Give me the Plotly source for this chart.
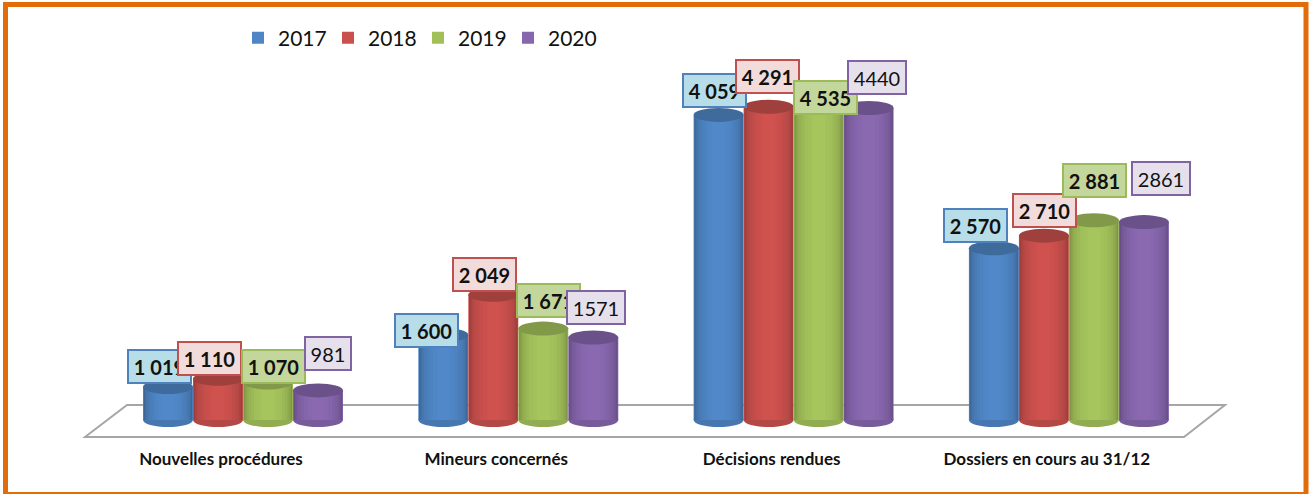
import plotly.graph_objects as go

categories = ["Nouvelles procédures", "Mineurs concernés", "Décisions rendues", "Dossiers en cours au 31/12"]
years = ["2017", "2018", "2019", "2020"]

# Printed data labels
labels_2017 = ["1 019", "1 600", "4 059", "2 570"]
labels_2018 = ["1 110", "2 049", "4 291", "2 710"]
labels_2019 = ["1 070", "1 671", "4 535", "2 881"]
labels_2020 = ["981", "1571", "4440", "2861"]

# Bar heights
values_2017 = [1019, 1600, 4059, 2570]
values_2018 = [1110, 2049, 4150, 2710]
values_2019 = [1070, 1671, 4190, 2881]
values_2020 = [981, 1571, 4136, 2861]
AXIS_BASE = 650

series_values = [values_2017, values_2018, values_2019, values_2020]
series_labels = [labels_2017, labels_2018, labels_2019, labels_2020]

colors = ["#4F85C4", "#C9504D", "#A2C05A", "#8666AC"]
box_fill = ["#B7DEE8", "#F2DCDB", "#C3D69B", "#E6E0EC"]
box_line = ["#4F81BD", "#C0504D", "#9BBB59", "#8064A2"]

W, H = 1310, 494
PLOT_BOTTOM = 440
GROUP_STEP = 275.3
GROUP0 = 243.0
BAR_W = 50.0 / GROUP_STEP
SCALE = 0.0895  # px per unit
y_min = AXIS_BASE - 20 / SCALE
y_max = AXIS_BASE + 420 / SCALE
x_min = -GROUP0 / GROUP_STEP
x_max = (W - GROUP0) / GROUP_STEP


def shade(hex_color, f):
    r, g, b = int(hex_color[1:3], 16), int(hex_color[3:5], 16), int(hex_color[5:7], 16)
    return "#%02X%02X%02X" % (int(min(255, r * f)), int(min(255, g * f)), int(min(255, b * f)))


def px(x):
    return x / W


def py(y):
    return 1 - y / PLOT_BOTTOM


fig = go.Figure()
nest = [(1.00, 0.72), (0.97, 0.78), (0.92, 0.84), (0.86, 0.89), (0.78, 0.93),
        (0.68, 0.96), (0.56, 0.99), (0.42, 1.01), (0.26, 1.03)]
xs = list(range(len(categories)))
for s, (year, vals) in enumerate(zip(years, series_values)):
    centre = (s - 1.5) * BAR_W
    for n, (frac, f) in enumerate(nest):
        w = BAR_W * frac
        fig.add_trace(go.Bar(
            x=xs, y=[v - AXIS_BASE for v in vals], base=AXIS_BASE,
            width=w, offset=centre - w / 2,
            marker=dict(color=colors[s] if n == 0 else shade(colors[s], f), line=dict(width=0)),
            name=year, legendgroup=year, showlegend=(n == 0), hoverinfo="skip",
        ))

shapes = []
# Floor
fx = [85, 127, 1225, 1184]
fy = [437, 405, 405, 437]
shapes.append(dict(type="path", xref="paper", yref="paper", layer="below",
                   path="M " + " L ".join(f"{px(a):.5f} {py(b):.5f}" for a, b in zip(fx, fy)) + " Z",
                   line=dict(color="#A6A6A6", width=2), fillcolor="white"))
RY = 7 / SCALE
for s, vals in enumerate(series_values):
    centre = (s - 1.5) * BAR_W
    for i, v in enumerate(vals):
        shapes.append(dict(type="circle", xref="x", yref="y", layer="below",
                           x0=i + centre - BAR_W / 2, x1=i + centre + BAR_W / 2,
                           y0=AXIS_BASE - RY, y1=AXIS_BASE + RY,
                           fillcolor=shade(colors[s], 0.9), line=dict(width=0)))
        shapes.append(dict(type="circle", xref="x", yref="y", layer="above",
                           x0=i + centre - BAR_W / 2, x1=i + centre + BAR_W / 2,
                           y0=v - RY, y1=v + RY,
                           fillcolor=shade(colors[s], 0.8), line=dict(width=0)))
# Orange frame
shapes.append(dict(type="rect", xref="paper", yref="paper", layer="above",
                   x0=px(5.5), x1=px(1306), y0=py(4.5), y1=py(494.5),
                   line=dict(color="#E36C0A", width=5), fillcolor="rgba(0,0,0,0)"))

# Label box centres and sizes in page pixels
box_x = [[159.5, 426, 714, 975], [209.5, 484, 767, 1044], [273.5, 548, 825, 1094], [328, 596, 877, 1161]]
box_y = [[366, 330, 90, 225], [358, 274, 76, 210], [366, 300, 97, 180], [353, 307, 77, 178]]
box_w = [[65, 65, 65, 65], [65, 65, 65, 65], [65, 65, 65, 65], [48, 60, 60, 60]]
box_h = 35

annotations = []
for s in range(4):
    for i in range(4):
        annotations.append(dict(
            text=series_labels[s][i], xref="paper", yref="paper",
            x=px(box_x[s][i]), y=py(box_y[s][i]), xanchor="center", yanchor="middle",
            width=box_w[s][i] - 4, height=box_h - 4, showarrow=False, align="center", valign="middle",
            bgcolor=box_fill[s], bordercolor=box_line[s], borderwidth=2, borderpad=0,
            font=dict(family="Lato", size=20, color="#111111", weight="bold" if s < 3 else "normal"),
        ))

fig.update_layout(
    width=W, height=H, margin=dict(l=0, r=0, t=0, b=H - PLOT_BOTTOM, pad=0),
    barmode="overlay", plot_bgcolor="white", paper_bgcolor="white",
    shapes=shapes, annotations=annotations,
    showlegend=True,
    legend=dict(orientation="h", x=238 / W, xanchor="left", y=py(38), yanchor="middle",
                font=dict(family="Lato", size=21, color="#111111"),
                entrywidth=45, entrywidthmode="pixels", bgcolor="rgba(0,0,0,0)", traceorder="normal"),
    xaxis=dict(range=[x_min, x_max], tickmode="array",
               tickvals=[i - 0.08 for i in xs], ticktext=categories,
               showgrid=False, zeroline=False, showline=False, ticks="", ticklen=0, ticklabelstandoff=7,
               tickfont=dict(family="Lato", size=17, color="#111111", weight="bold")),
    yaxis=dict(range=[y_min, y_max], visible=False, showgrid=False, zeroline=False),
)

fig.write_html("out.html", config=dict(displayModeBar=False),
               post_script="document.body.style.margin='0';document.body.style.overflow='hidden';")
